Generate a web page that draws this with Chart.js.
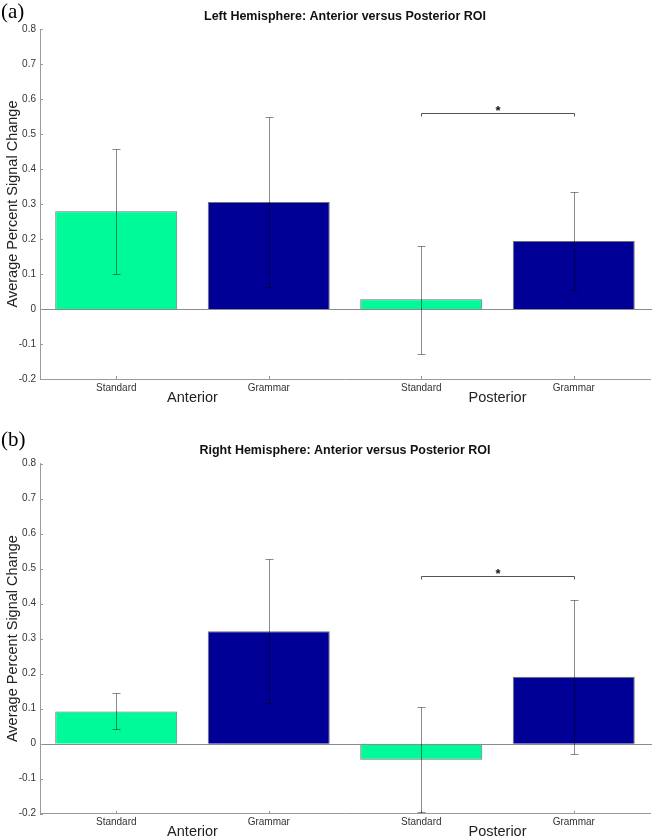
<!DOCTYPE html>
<html>
<head>
<meta charset="utf-8">
<script src="https://cdn.jsdelivr.net/npm/chart.js@4"></script>
<style>
  body { margin: 0; background: #fff; }
  .panel { width: 652px; height: 420px; position: relative; }
</style>
</head>
<body>
<div class="panel"><canvas id="leftChart" width="652" height="420"></canvas></div>
<div class="panel"><canvas id="rightChart" width="652" height="420"></canvas></div>
<script>
// categories and groups
const categories = ['Standard', 'Grammar', 'Standard', 'Grammar'];
const groupLabels = ['Anterior', 'Posterior'];
const barColors = ['#00fa9a', '#000096', '#00fa9a', '#000096'];

// y axis range
const yMin = -0.2;
const yMax = 0.8;
const yStep = 0.1;

// (a) left hemisphere
const leftMeans = [0.279, 0.306, 0.028, 0.194];
const leftErrLow = [0.100, 0.063, -0.128, 0.053];
const leftErrHigh = [0.458, 0.550, 0.181, 0.335];
const leftSigLevel = 0.56;

// (b) right hemisphere
const rightMeans = [0.092, 0.321, -0.046, 0.191];
const rightErrLow = [0.041, 0.115, -0.195, -0.030];
const rightErrHigh = [0.145, 0.526, 0.104, 0.411];
const rightSigLevel = 0.478;

const sansFont = "'Liberation Sans', Arial, Helvetica, sans-serif";
const serifFont = "'Liberation Serif', 'Times New Roman', serif";

function makePanel(canvasId, opts) {
    // draws title, panel letter, axis labels, inward ticks, error bars and bracket
    const extras = {
        id: 'extras_' + canvasId,
        afterDatasetsDraw(chart) {
            const ctx = chart.ctx;
            const area = chart.chartArea;
            const y = chart.scales.y;
            const bars = chart.getDatasetMeta(0).data;

            ctx.save();

            // zero baseline
            ctx.strokeStyle = '#8c8c8c';
            ctx.lineWidth = 1;
            const y0 = Math.round(y.getPixelForValue(0)) + 0.5;
            ctx.beginPath();
            ctx.moveTo(area.left, y0);
            ctx.lineTo(area.right + 2, y0);
            ctx.stroke();

            // inward ticks on y axis
            ctx.strokeStyle = '#9a9a9a';
            y.ticks.forEach((t, i) => {
                const py = Math.round(y.getPixelForTick(i)) + 0.5;
                ctx.beginPath();
                ctx.moveTo(area.left, py);
                ctx.lineTo(area.left + 3, py);
                ctx.stroke();
            });
            // inward ticks on x axis
            bars.forEach(b => {
                const px = Math.round(b.x) + 0.5;
                ctx.beginPath();
                ctx.moveTo(px, area.bottom);
                ctx.lineTo(px, area.bottom - 3);
                ctx.stroke();
            });

            // error bars
            ctx.strokeStyle = 'rgba(0,0,0,0.45)';
            ctx.lineWidth = 1;
            bars.forEach((b, i) => {
                const px = Math.round(b.x) + 0.5;
                const hi = Math.round(y.getPixelForValue(opts.errHigh[i])) + 0.5;
                const lo = Math.round(y.getPixelForValue(opts.errLow[i])) + 0.5;
                ctx.beginPath();
                ctx.moveTo(px, hi);
                ctx.lineTo(px, lo);
                ctx.moveTo(px - 4, hi);
                ctx.lineTo(px + 4, hi);
                ctx.moveTo(px - 4, lo);
                ctx.lineTo(px + 4, lo);
                ctx.stroke();
            });

            // significance bracket between posterior bars
            const bx1 = Math.round(bars[2].x) + 0.5;
            const bx2 = Math.round(bars[3].x) + 0.5;
            const by = Math.round(y.getPixelForValue(opts.sigLevel)) + 0.5;
            ctx.strokeStyle = '#555';
            ctx.beginPath();
            ctx.moveTo(bx1, by + 3);
            ctx.lineTo(bx1, by);
            ctx.lineTo(bx2, by);
            ctx.lineTo(bx2, by + 3);
            ctx.stroke();
            ctx.fillStyle = '#111';
            ctx.font = 'bold 13px ' + sansFont;
            ctx.textAlign = 'center';
            ctx.textBaseline = 'alphabetic';
            ctx.fillText('*', (bx1 + bx2) / 2, by + 1);

            // title
            ctx.font = 'bold 12.5px ' + sansFont;
            ctx.fillStyle = '#111';
            ctx.textBaseline = 'middle';
            ctx.fillText(opts.title, (area.left + area.right) / 2, area.top - 12.5);

            // panel letter
            ctx.font = '21px ' + serifFont;
            ctx.textAlign = 'left';
            ctx.textBaseline = 'top';
            ctx.fillStyle = '#000';
            ctx.fillText(opts.letter, 1, opts.letterTop);

            // y axis title
            ctx.save();
            ctx.translate(13, (area.top + area.bottom) / 2);
            ctx.rotate(-Math.PI / 2);
            ctx.font = '14.5px ' + sansFont;
            ctx.textAlign = 'center';
            ctx.textBaseline = 'middle';
            ctx.fillStyle = '#222';
            ctx.fillText('Average Percent Signal Change', 0, 0);
            ctx.restore();

            // group labels under the tick labels
            ctx.font = '14.5px ' + sansFont;
            ctx.textAlign = 'center';
            ctx.textBaseline = 'middle';
            ctx.fillStyle = '#222';
            groupLabels.forEach((g, k) => {
                const gx = (bars[2 * k].x + bars[2 * k + 1].x) / 2;
                ctx.fillText(g, gx, area.bottom + 18.5);
            });

            ctx.restore();
        }
    };

    return new Chart(document.getElementById(canvasId), {
        type: 'bar',
        data: {
            labels: categories,
            datasets: [{
                data: opts.means,
                backgroundColor: barColors,
                borderColor: '#707070',
                borderWidth: 1,
                barPercentage: 0.8,
                categoryPercentage: 1.0
            }]
        },
        options: {
            responsive: false,
            animation: false,
            layout: { padding: { top: opts.padTop, right: 2, left: 0, bottom: 0 } },
            plugins: {
                legend: { display: false },
                tooltip: { enabled: false }
            },
            scales: {
                x: {
                    grid: { display: false, drawTicks: false },
                    border: { display: true, color: '#9a9a9a' },
                    ticks: {
                        color: '#333',
                        font: { family: sansFont, size: 10 },
                        padding: 3,
                        maxRotation: 0
                    },
                    afterFit(scale) { scale.height = opts.xHeight; }
                },
                y: {
                    min: yMin,
                    max: yMax,
                    grid: { display: false, drawTicks: false },
                    border: { display: true, color: '#9a9a9a' },
                    ticks: {
                        stepSize: yStep,
                        color: '#333',
                        font: { family: sansFont, size: 10 },
                        padding: 4,
                        callback: v => Math.abs(v) < 1e-9 ? '0' : v.toFixed(1)
                    },
                    afterFit(scale) { scale.width = 40; }
                }
            }
        },
        plugins: [extras]
    });
}

makePanel('leftChart', {
    title: 'Left Hemisphere: Anterior versus Posterior ROI',
    letter: '(a)',
    letterTop: 2,
    means: leftMeans,
    errLow: leftErrLow,
    errHigh: leftErrHigh,
    sigLevel: leftSigLevel,
    padTop: 29,
    xHeight: 41
});

makePanel('rightChart', {
    title: 'Right Hemisphere: Anterior versus Posterior ROI',
    letter: '(b)',
    letterTop: 10,
    means: rightMeans,
    errLow: rightErrLow,
    errHigh: rightErrHigh,
    sigLevel: rightSigLevel,
    padTop: 43.5,
    xHeight: 26.3
});
</script>
</body>
</html>
